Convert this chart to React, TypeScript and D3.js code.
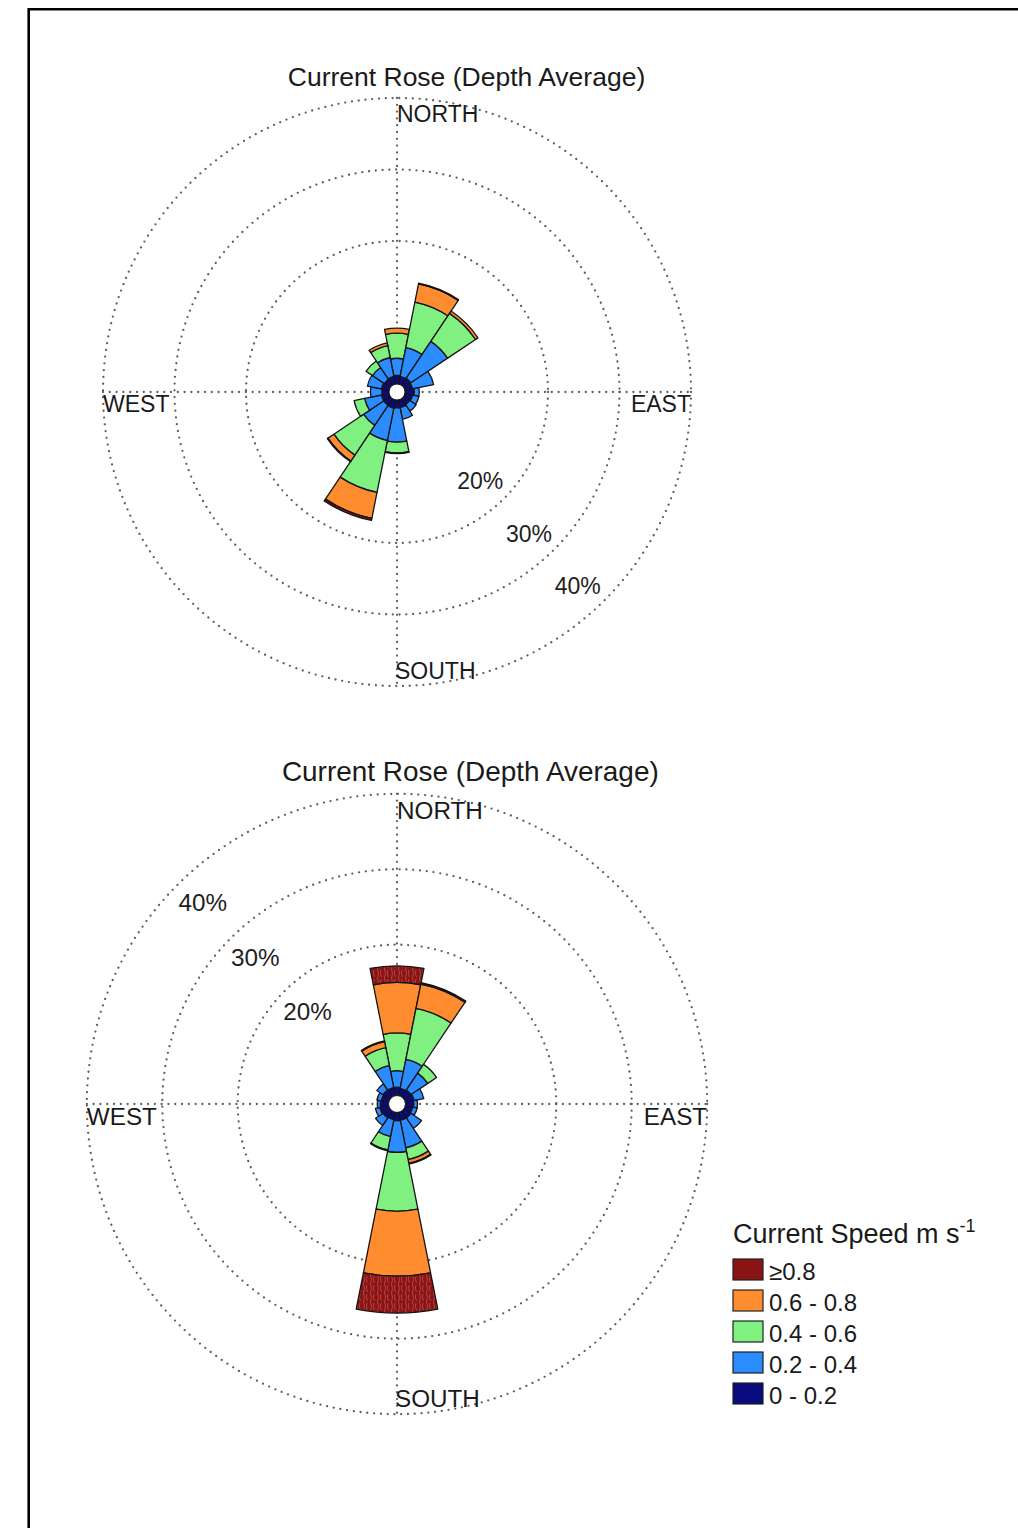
import * as d3 from 'd3';
import * as React from 'react';

// 16 compass sectors, clockwise from north
const DIRECTIONS = ['N', 'NNE', 'NE', 'ENE', 'E', 'ESE', 'SE', 'SSE', 'S', 'SSW', 'SW', 'WSW', 'W', 'WNW', 'NW', 'NNW'];
const SPEED_CLASSES = ['0 - 0.2', '0.2 - 0.4', '0.4 - 0.6', '0.6 - 0.8', '\u22650.8'];
const SPEED_COLORS = ['#0b0b80', '#2a8cff', '#80f080', '#ff8c2e', '#8a1414'];
const RING_TICKS = [20, 30, 40];
const COMPASS_LABELS = ['NORTH', 'EAST', 'SOUTH', 'WEST'];
const TITLE = 'Current Rose (Depth Average)';

// upper rose, % occurrence per sector for each speed class
const upperClass0 = [1.2, 1.1, 1.2, 1.1, 1.3, 1.1, 1.0, 1.1, 1.1, 1.2, 1.1, 1.1, 1.0, 1.1, 1.0, 1.1];
const upperClass1 = [2.4, 4.1, 6.2, 3.0, 0.7, 0.9, 1.1, 1.7, 4.8, 4.6, 3.4, 2.4, 1.6, 2.0, 2.0, 2.7];
const upperClass2 = [3.5, 6.5, 4.7, 0, 0, 0, 0, 0, 1.5, 7.4, 5.0, 1.5, 0, 0, 1.1, 1.7];
const upperClass3 = [0.7, 2.6, 0.4, 0, 0, 0, 0, 0, 0.1, 3.7, 1.0, 0, 0, 0, 0, 0.4];
const upperClass4 = [0, 0.1, 0, 0, 0, 0, 0, 0, 0, 0.3, 0.1, 0, 0, 0, 0, 0];

// lower rose
const lowerClass0 = [1.1, 1.0, 1.1, 1.2, 1.1, 1.0, 1.1, 1.1, 1.1, 1.0, 1.1, 1.2, 1.1, 1.0, 1.1, 1.1];
const lowerClass1 = [2.2, 3.9, 2.7, 1.3, 0.5, 0.6, 1.7, 3.7, 4.2, 2.3, 1.2, 0.6, 0.4, 0.6, 1.0, 3.0];
const lowerClass2 = [5.0, 6.9, 1.4, 0, 0, 0, 0, 1.6, 7.8, 1.8, 0, 0, 0, 0, 0, 2.4];
const lowerClass3 = [6.7, 3.3, 0, 0, 0, 0, 0, 0.5, 8.6, 0.1, 0, 0, 0, 0, 0, 0.8];
const lowerClass4 = [2.2, 0.2, 0, 0, 0, 0, 0, 0.1, 4.9, 0, 0, 0, 0, 0, 0, 0.1];

const FONT = '"Liberation Sans", Arial, Helvetica, sans-serif';
const DOTTED = { stroke: '#5e5e5e', strokeWidth: 2.3, strokeDasharray: '0 6.8', strokeLinecap: 'round' as const, fill: 'none' };

interface RoseProps {
    cx: number;
    cy: number;
    scale: number;
    classes: number[][];
    labelBearing: number;
    textured?: boolean;
}

function Rose({ cx, cy, scale, classes, labelBearing, textured }: RoseProps) {
    const r = d3.scaleLinear().domain([0, 40]).range([8 * scale, 294 * scale]);
    const R = r(40);
    const half = Math.PI / DIRECTIONS.length;
    const arc = d3.arc<any>();
    const fs = 23 * scale;

    const wedges: React.ReactNode[] = [];
    DIRECTIONS.forEach((dir, i) => {
        const mid = i * 2 * half;
        let cum = 0;
        classes.forEach((vals, k) => {
            const v = vals[i];
            if (v <= 0) return;
            const d = arc({ innerRadius: r(cum), outerRadius: r(cum + v), startAngle: mid - half, endAngle: mid + half });
            cum += v;
            // the scanned lower rose shows a streaky texture on the fastest class
            const fill = textured && k === 4 ? 'url(#redTexture)' : SPEED_COLORS[k];
            wedges.push(<path key={dir + k} d={d || ''} fill={fill} stroke="#141414" strokeWidth={1.3} strokeLinejoin="round" />);
        });
    });

    const b = (labelBearing * Math.PI) / 180;

    return (
        <g>
            <g transform={`translate(${cx},${cy})`}>
                {RING_TICKS.map(t => <circle key={t} r={r(t)} {...DOTTED} />)}
                <line x1={0} y1={-R} x2={0} y2={R} {...DOTTED} />
                <line x1={-R} y1={0} x2={R} y2={0} {...DOTTED} />
                {wedges}
                <circle r={r(0)} fill="#fff" stroke="#141414" strokeWidth={1} />
                {RING_TICKS.map(t => {
                    const rr = r(t) - 29 * scale;
                    return (
                        <text key={'l' + t} x={rr * Math.sin(b)} y={-rr * Math.cos(b)} textAnchor="middle"
                            dominantBaseline="central" fontSize={fs} fill="#1e1e1e">{t}%</text>
                    );
                })}
            </g>
            <g fontFamily={FONT} fontSize={fs} fill="#1a1a1a">
                <text x={cx} y={cy - R + 24 * scale}>{COMPASS_LABELS[0]}</text>
                <text x={cx + R} y={cy + 20 * scale} textAnchor="end">{COMPASS_LABELS[1]}</text>
                <text x={cx - 2} y={cy + R - 7 * scale}>{COMPASS_LABELS[2]}</text>
                <text x={cx - R} y={cy + 20 * scale}>{COMPASS_LABELS[3]}</text>
            </g>
            <text x={cx + 69.5 * scale} y={cy - R - 12 * scale} textAnchor="middle" fontFamily={FONT}
                fontSize={26.5 * scale} fill="#1a1a1a">{TITLE}</text>
        </g>
    );
}

function Legend({ x, y }: { x: number; y: number }) {
    const order = d3.range(SPEED_CLASSES.length).reverse();
    return (
        <g fontFamily={FONT} fill="#1a1a1a">
            <text x={x} y={y} fontSize={27}>
                Current Speed m s<tspan dy={-11} fontSize={18}>-1</tspan>
            </text>
            {order.map((k, j) => (
                <g key={k} transform={`translate(${x},${y + 16 + j * 31})`}>
                    <rect width={30} height={21} fill={SPEED_COLORS[k]} stroke="#222" strokeWidth={1.2} />
                    <text x={36} y={21} fontSize={24}>{SPEED_CLASSES[k]}</text>
                </g>
            ))}
        </g>
    );
}

export default function App() {
    const upper = [upperClass0, upperClass1, upperClass2, upperClass3, upperClass4];
    const lower = [lowerClass0, lowerClass1, lowerClass2, lowerClass3, lowerClass4];
    return (
        <svg width={1018} height={1528} style={{ position: 'absolute', left: 0, top: 0, background: '#fff' }}
            fontFamily={FONT}>
            <defs>
                <pattern id="redTexture" width={7} height={9} patternUnits="userSpaceOnUse">
                    <rect width={7} height={9} fill={SPEED_COLORS[4]} />
                    <path d="M1.5,0 q2,4.5 0,9 M5,1 q-1.5,3 0.5,7" stroke="#b34a4a" strokeWidth={0.9} fill="none" />
                </pattern>
            </defs>
            <rect width={1018} height={1528} fill="#fff" />
            <path d="M28.7,1540 V9.3 H1040" fill="none" stroke="#000" strokeWidth={2.6} />
            <Rose cx={397} cy={392} scale={1} classes={upper} labelBearing={137} />
            <Rose cx={397} cy={1104} scale={1.055} classes={lower} labelBearing={316} textured />
            <Legend x={733} y={1243} />
        </svg>
    );
}
